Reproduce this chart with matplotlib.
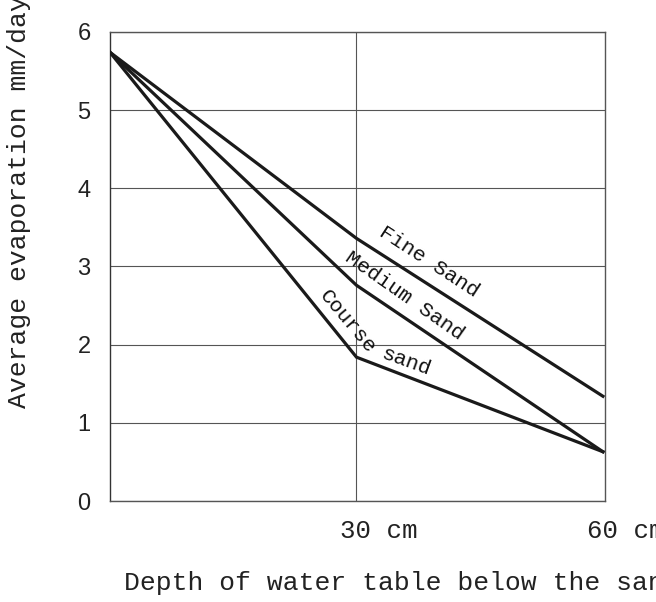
import matplotlib.pyplot as plt
import matplotlib.transforms as mtransforms

# depth of water table (cm) and evaporation (mm/day)
depth = [0, 30, 60]
fine_sand = [5.74, 3.36, 1.34]
medium_sand = [5.74, 2.76, 0.63]
course_sand = [5.74, 1.84, 0.63]

y_ticks = [0, 1, 2, 3, 4, 5, 6]
x_ticks = [30, 60]
x_tick_labels = ['30 cm', '60 cm']

mono = 'Liberation Mono'

fig = plt.figure(figsize=(6.56, 6.02), dpi=100)
ax = fig.add_axes([110 / 656, 101 / 602, 495 / 656, 469 / 602])

for vals in (fine_sand, medium_sand, course_sand):
    ax.plot(depth, vals, color='#1a1a1a', lw=2.3, solid_joinstyle='miter', zorder=3)

ax.set_xlim(0, 60.25)
ax.set_ylim(0, 6)
ax.set_yticks(y_ticks)
ax.set_yticklabels([str(v) for v in y_ticks], family='Liberation Sans', fontsize=17)
ax.set_xticks([30])
ax.set_xticklabels([])
ax.tick_params(length=0)
ax.tick_params(axis='y', pad=14, labelcolor='#222222')
ax.grid(True, color='#555555', lw=0.8)
for s in ax.spines.values():
    s.set_color('#555555')
    s.set_linewidth(1.0)
ax.spines['left'].set_color('#333333')

# x tick labels, left aligned so the number sits on the gridline
trans = mtransforms.blended_transform_factory(ax.transData, ax.transAxes)
for xt, txt in zip(x_ticks, x_tick_labels):
    off = mtransforms.ScaledTranslation(-16 / 100, -37 / 100, fig.dpi_scale_trans)
    ax.text(xt, 0, txt, transform=trans + off, ha='left', va='baseline',
            family=mono, fontsize=18.5, color='#222222', clip_on=False)

# line labels
lab_kw = dict(family=mono, fontsize=15.3, color='#111111', ha='center', va='center',
              rotation_mode='anchor')
ax.text(38.8, 3.06, 'Fine Sand', rotation=-33, **lab_kw)
ax.text(35.9, 2.63, 'Medium Sand', rotation=-35, **lab_kw)
ax.text(28.9, 2.29, 'Course', rotation=-50, **lab_kw)
ax.text(36.0, 1.78, 'sand', rotation=-20, **lab_kw)

fig.text(124 / 656, 12 / 602, 'Depth of water table below the sand', ha='left',
         va='baseline', family=mono, fontsize=19, color='#222222')
fig.text(19 / 656, 194 / 602, 'Average evaporation mm/day', rotation=90,
         ha='center', va='bottom', family=mono, fontsize=19, color='#222222')

fig.savefig('out.png', dpi=100)
